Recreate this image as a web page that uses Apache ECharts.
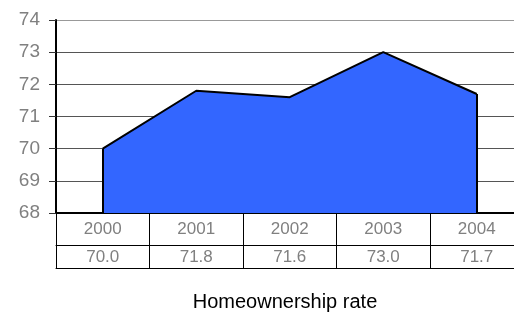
<!DOCTYPE html>
<html>
<head>
<meta charset="utf-8">
<script src="https://cdn.jsdelivr.net/npm/echarts@6/dist/echarts.min.js"></script>
<style>
  html, body { margin: 0; padding: 0; background: #fff; }
  #chart { width: 514px; height: 314px; }
</style>
</head>
<body>
<div id="chart"></div>
<script>
// data
var years = ['2000', '2001', '2002', '2003', '2004'];
var rates = [70.0, 71.8, 71.6, 73.0, 71.7];
var yMin = 68, yMax = 74;
var chartTitle = 'Homeownership rate';

var FONT = '"Liberation Sans", Arial, sans-serif';
var GRAY = '#808080';

var chart = echarts.init(document.getElementById('chart'));

var option = {
  animation: false,
  textStyle: { fontFamily: FONT },
  // the plot runs past the right edge of the picture, last column is cut off
  grid: { left: 56, top: 20, height: 193, width: 467.5, containLabel: false, outerBoundsMode: 'none' },
  xAxis: [
    {
      type: 'category',
      data: years,
      position: 'bottom',
      boundaryGap: true,
      axisLine: { lineStyle: { color: '#000', width: 2 } },
      axisTick: { show: true, length: 55, interval: 0, lineStyle: { color: '#000', width: 1 } },
      axisLabel: { color: GRAY, fontSize: 17, margin: 8, interval: 0 },
      splitLine: { show: false }
    },
    {
      // second table row: the values
      type: 'category',
      data: rates.map(function (v) { return v.toFixed(1); }),
      position: 'bottom',
      offset: 32,
      axisLine: { lineStyle: { color: '#000', width: 1 } },
      axisTick: { show: false },
      axisLabel: { color: GRAY, fontSize: 17, margin: 4, interval: 0 },
      splitLine: { show: false }
    },
    {
      // bottom border of the table
      type: 'category',
      data: years,
      position: 'bottom',
      offset: 55,
      axisLine: { lineStyle: { color: '#000', width: 1 } },
      axisTick: { show: false },
      axisLabel: { show: false },
      splitLine: { show: false }
    }
  ],
  yAxis: {
    type: 'value',
    min: yMin,
    max: yMax,
    interval: 1,
    axisLine: { show: true, lineStyle: { color: '#000', width: 2 } },
    axisTick: { show: true, length: 7, lineStyle: { color: '#333' } },
    axisLabel: { color: GRAY, fontSize: 19, margin: 16 },
    splitLine: {
      lineStyle: { color: ['#555', '#555', '#555', '#555', '#555', '#555', '#999'], width: 1 }
    }
  },
  series: [
    {
      type: 'line',
      data: rates,
      symbol: 'none',
      lineStyle: { color: '#000', width: 2 },
      areaStyle: { color: '#3366ff', opacity: 1, origin: 'start' },
      markLine: {
        silent: true,
        symbol: 'none',
        label: { show: false },
        lineStyle: { color: '#000', width: 2, type: 'solid' },
        data: [
          [{ coord: [years[0], yMin] }, { coord: [years[0], rates[0]] }],
          [{ coord: [years[years.length - 1], yMin] }, { coord: [years[years.length - 1], rates[rates.length - 1]] }]
        ]
      }
    }
  ],
  graphic: [
    {
      type: 'text',
      x: 285,
      y: 302,
      style: {
        text: chartTitle,
        font: '20px ' + FONT,
        fill: '#000',
        textAlign: 'center',
        textVerticalAlign: 'middle'
      }
    }
  ]
};

chart.setOption(option);
</script>
</body>
</html>
